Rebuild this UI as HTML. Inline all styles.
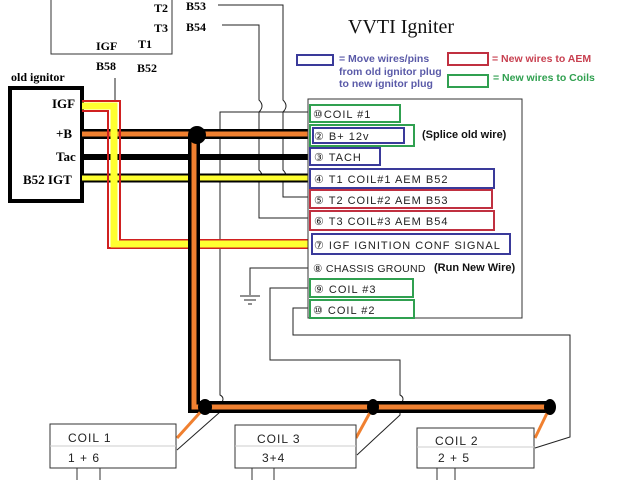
<!DOCTYPE html>
<html><head><meta charset="utf-8"><style>
html,body{margin:0;padding:0;background:#fff;}
svg{display:block}
.h{font-family:"Liberation Serif",serif;font-weight:bold;font-size:12px;fill:#000}
.p{font-family:"Liberation Sans",sans-serif;font-size:11px;fill:#222;letter-spacing:1px}
.b{font-family:"Liberation Sans",sans-serif;font-weight:bold;font-size:11px}
.l{font-family:"Liberation Sans",sans-serif;font-weight:bold;font-size:10.5px}
</style></head><body>
<svg width="640" height="480" viewBox="0 0 640 480" xmlns="http://www.w3.org/2000/svg">
<polyline points="51,0 51,54 172,54 172,0" fill="none" stroke="#333" stroke-width="1"/>
<text class="h" x="154" y="12">T2</text>
<text class="h" x="154" y="32">T3</text>
<text class="h" x="138" y="48">T1</text>
<text class="h" x="96" y="50">IGF</text>
<text class="h" x="96" y="70">B58</text>
<text class="h" x="137" y="72">B52</text>
<text class="h" x="186" y="10">B53</text>
<text class="h" x="186" y="31">B54</text>
<text x="348" y="33" font-family="Liberation Serif,serif" font-size="20" fill="#111">VVTI Igniter</text>
<rect x="297" y="55" width="36" height="10" fill="none" stroke="#3a3a9a" stroke-width="2"/>
<text class="l" x="339" y="62" fill="#5a5aa8">= Move wires/pins</text>
<text class="l" x="339" y="75" fill="#5a5aa8">from old ignitor plug</text>
<text class="l" x="339" y="87" fill="#5a5aa8">to new ignitor plug</text>
<rect x="448" y="53" width="40" height="12" fill="none" stroke="#c03040" stroke-width="2"/>
<text class="l" x="492" y="62" fill="#c84050">= New wires to AEM</text>
<rect x="448" y="75" width="40" height="12" fill="none" stroke="#30a050" stroke-width="2"/>
<text class="l" x="493" y="81" fill="#30a050">= New wires to Coils</text>
<text class="h" x="11" y="81">old ignitor</text>
<rect x="10" y="88" width="72" height="113" fill="none" stroke="#000" stroke-width="4"/>
<text class="h" x="52" y="108" style="font-size:13px">IGF</text>
<text class="h" x="56" y="138" style="font-size:13px">+B</text>
<text class="h" x="56" y="161" style="font-size:13px">Tac</text>
<text class="h" x="23" y="184" style="font-size:13px">B52 IGT</text>
<g fill="none" stroke="#222" stroke-width="1">
<path d="M218,5 H283 V100 q6,6 0,12 V170 q6,6 0,12 V197 H310"/>
<path d="M222,25 H259 V100 q6,6 0,12 V170 q6,6 0,12 V218 H310"/>
<path d="M310,112 H220 V395 q6,3 0,10 V412 L177,450"/>
<path d="M310,288 H270 V360 H400 V395 q6,3 0,10 V415 L357,455"/>
<path d="M310,308 H293 V335 H570 V437 L535,448"/>
<path d="M310,268 H250 V295"/>
<path d="M240,296 H260 M244,300 H256 M248,304 H252"/>
<path d="M115,78 V102"/>
</g>
<g fill="none">
<path d="M82,134 H310" stroke="#000" stroke-width="10"/>
<path d="M82,134 H310" stroke="#f08030" stroke-width="5"/>
<path d="M82,157 H310" stroke="#000" stroke-width="6"/>
<path d="M82,178 H310" stroke="#000" stroke-width="9"/>
<path d="M82,178 H310" stroke="#ffff30" stroke-width="5"/>
<path d="M82,101 H120 V240 H310 M82,111 H108 V248 H310" stroke="#d02020" stroke-width="2"/>
<path d="M82,106 H114 V244 H310" stroke="#ffff30" stroke-width="7"/>
<path d="M194,135 V407 H550" stroke="#000" stroke-width="12"/>
<path d="M194,135 V407 H550" stroke="#f08030" stroke-width="5"/>
<path d="M205,407 L177,438 M373,407 L356,438 M550,407 L535,438" stroke="#f08030" stroke-width="3"/>
</g>
<circle cx="197" cy="135" r="9" fill="#000"/>
<ellipse cx="205" cy="407" rx="7" ry="8" fill="#000"/>
<ellipse cx="373" cy="407" rx="6" ry="8" fill="#000"/>
<ellipse cx="550" cy="407" rx="6" ry="8" fill="#000"/>
<rect x="308" y="99" width="214" height="219" fill="#fff" stroke="#333" stroke-width="1"/>
<g fill="none" stroke-width="2">
<rect x="310" y="105" width="90" height="17" stroke="#30a050"/>
<rect x="310" y="125" width="104" height="21" stroke="#30a050"/>
<rect x="313" y="128" width="91" height="15" stroke="#3a3a9a"/>
<rect x="310" y="148" width="70" height="17" stroke="#3a3a9a"/>
<rect x="310" y="169" width="184" height="19" stroke="#3a3a9a"/>
<rect x="310" y="190" width="182" height="18" stroke="#c03040"/>
<rect x="310" y="211" width="184" height="19" stroke="#c03040"/>
<rect x="312" y="234" width="198" height="20" stroke="#3a3a9a"/>
<rect x="310" y="279" width="103" height="18" stroke="#30a050"/>
<rect x="310" y="300" width="104" height="18" stroke="#30a050"/>
</g>
<text class="p" x="313" y="118">⑩COIL #1</text>
<text class="p" x="314" y="140">② B+ 12v</text>
<text class="b" x="422" y="138" fill="#111">(Splice old wire)</text>
<text class="p" x="314" y="161">③ TACH</text>
<text class="p" x="314" y="183">④ T1  COIL#1  AEM B52</text>
<text class="p" x="314" y="204">⑤ T2  COIL#2  AEM B53</text>
<text class="p" x="314" y="225">⑥ T3  COIL#3  AEM B54</text>
<text class="p" x="314" y="249">⑦ IGF  IGNITION CONF SIGNAL</text>
<text class="p" x="313" y="272" style="font-size:10.5px;letter-spacing:0.3px">⑧ CHASSIS GROUND</text>
<text class="b" x="434" y="271" fill="#111">(Run New Wire)</text>
<text class="p" x="314" y="293">⑨ COIL #3</text>
<text class="p" x="313" y="314">⑩ COIL #2</text>
<g fill="#fff" stroke="#333" stroke-width="1">
<rect x="50" y="424" width="126" height="44"/>
<rect x="235" y="425" width="121" height="43"/>
<rect x="417" y="428" width="117" height="40"/>
</g>
<path d="M50,446 H176 M235,446 H356 M417,447 H534" stroke="#ccc"/>
<path d="M77,468 V480 M100,468 V480 M252,468 V480 M274,468 V480 M437,468 V480 M455,468 V480" stroke="#333"/>
<text class="p" x="68" y="442" style="font-size:12px">COIL 1</text>
<text class="p" x="68" y="462" style="font-size:12px">1 + 6</text>
<text class="p" x="257" y="443" style="font-size:12px">COIL 3</text>
<text class="p" x="262" y="462" style="font-size:12px">3+4</text>
<text class="p" x="435" y="445" style="font-size:12px">COIL 2</text>
<text class="p" x="438" y="462" style="font-size:12px">2 + 5</text>
</svg>
</body></html>
